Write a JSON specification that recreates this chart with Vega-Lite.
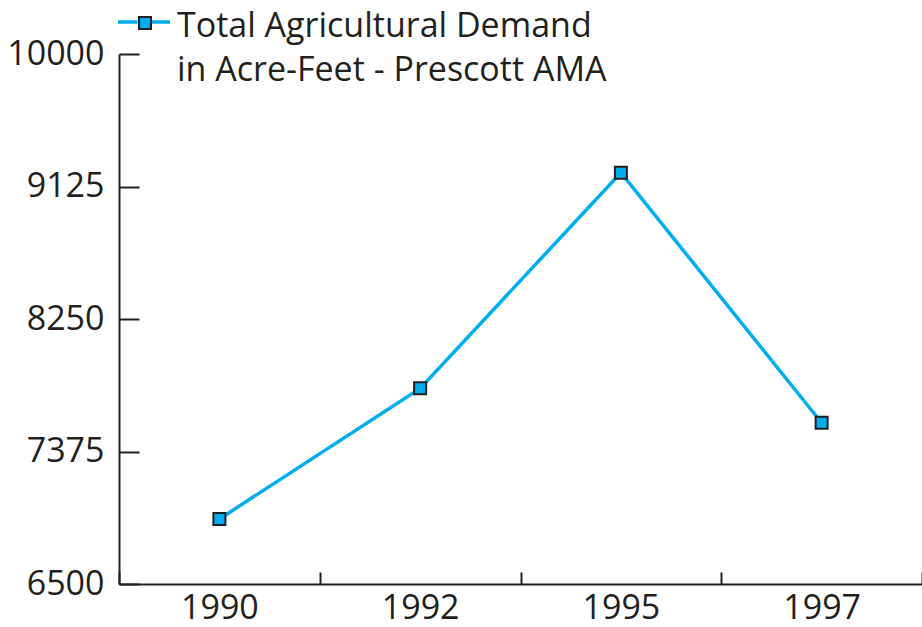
{
  "$schema": "https://vega.github.io/schema/vega-lite/v6.json",
  "autosize": "none",
  "width": 803,
  "height": 530,
  "padding": {"left": 119, "top": 54, "right": 0, "bottom": 43},
  "background": "white",
  "config": {
    "view": {"stroke": null},
    "font": "Open Sans",
    "axis": {
      "grid": false,
      "domainColor": "#231f20",
      "domainWidth": 2,
      "tickColor": "#231f20",
      "tickWidth": 2,
      "labelFont": "Open Sans",
      "labelFontSize": 34,
      "labelColor": "#231f20",
      "title": null
    },
    "legend": {
      "labelFont": "Open Sans",
      "labelFontSize": 34,
      "labelColor": "#231f20",
      "padding": 0
    }
  },
  "data": {
    "values": [
      {"year": "1990", "value": 6929, "series": "Total Agricultural Demand in Acre-Feet - Prescott AMA", "marker": "m"},
      {"year": "1992", "value": 7792, "series": "Total Agricultural Demand in Acre-Feet - Prescott AMA", "marker": "m"},
      {"year": "1995", "value": 9216, "series": "Total Agricultural Demand in Acre-Feet - Prescott AMA", "marker": "m"},
      {"year": "1997", "value": 7565, "series": "Total Agricultural Demand in Acre-Feet - Prescott AMA", "marker": "m"}
    ]
  },
  "encoding": {
    "x": {
      "field": "year",
      "type": "ordinal",
      "scale": {"type": "band", "paddingInner": 0, "paddingOuter": 0},
      "axis": {
        "labelAngle": 0,
        "tickBand": "extent",
        "tickSize": -12,
        "labelPadding": 19
      }
    },
    "y": {
      "field": "value",
      "type": "quantitative",
      "scale": {"domain": [6500, 10000], "nice": false, "zero": false},
      "axis": {
        "values": [6500, 7375, 8250, 9125, 10000],
        "format": "d",
        "tickSize": -20,
        "labelPadding": 35
      }
    }
  },
  "layer": [
    {
      "mark": {"type": "line", "strokeWidth": 3.5},
      "encoding": {
        "color": {
          "field": "series",
          "type": "nominal",
          "scale": {"range": ["#00aeef"]},
          "legend": {
            "title": null,
            "orient": "none",
            "legendX": -3,
            "legendY": -60,
            "zindex": 1,
            "symbolType": "M-1,0H-0.25M0.25,0H1",
            "symbolSize": 2704,
            "symbolStrokeWidth": 3.5,
            "labelOffset": 5,
            "labelLimit": 0,
            "labelExpr": "['Total Agricultural Demand', 'in Acre-Feet - Prescott AMA']",
            "encode": {
              "labels": {"update": {"dy": {"value": 5}, "lineHeight": {"value": 44}}}
            }
          }
        }
      }
    },
    {
      "mark": {"type": "point", "shape": "square", "filled": true, "fill": "#00aeef", "strokeWidth": 2, "size": 144, "opacity": 1},
      "encoding": {
        "stroke": {
          "field": "marker",
          "type": "nominal",
          "scale": {"range": ["#231f20"]},
          "legend": {
            "title": null,
            "orient": "none",
            "legendX": 9,
            "legendY": -48,
            "zindex": 5,
            "symbolType": "square",
            "symbolSize": 144,
            "symbolFillColor": "#00aeef",
            "symbolStrokeWidth": 2,
            "symbolOpacity": 1,
            "labelExpr": "''"
          }
        }
      }
    }
  ]
}
